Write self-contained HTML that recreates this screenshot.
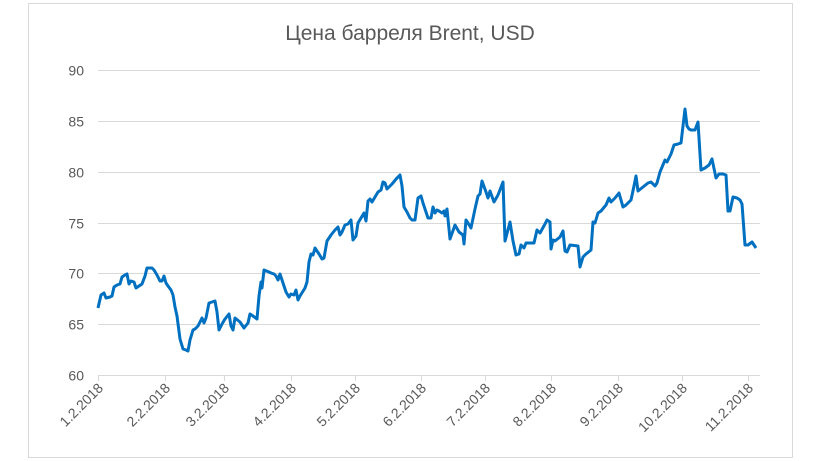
<!DOCTYPE html>
<html><head><meta charset="utf-8"><style>
html,body{margin:0;padding:0;background:#fff;}
svg{display:block;font-family:"Liberation Sans","DejaVu Sans",sans-serif;}
</style></head><body>
<svg width="820" height="461" viewBox="0 0 820 461" xmlns="http://www.w3.org/2000/svg">
<rect x="28.5" y="3.5" width="764" height="454" fill="#fff" stroke="#d9d9d9"/>
<text x="410" y="40" text-anchor="middle" font-size="21" fill="#595959">Цена барреля Brent, USD</text>
<g stroke="#d9d9d9" stroke-width="1">
<line x1="98" y1="70.5" x2="760" y2="70.5"/>
<line x1="98" y1="121.5" x2="760" y2="121.5"/>
<line x1="98" y1="172.5" x2="760" y2="172.5"/>
<line x1="98" y1="223.5" x2="760" y2="223.5"/>
<line x1="98" y1="273.5" x2="760" y2="273.5"/>
<line x1="98" y1="324.5" x2="760" y2="324.5"/>
<line x1="98" y1="375.5" x2="760" y2="375.5"/>
<line x1="98.5" y1="375" x2="98.5" y2="381"/>
<line x1="165.5" y1="375" x2="165.5" y2="381"/>
<line x1="224.5" y1="375" x2="224.5" y2="381"/>
<line x1="291.5" y1="375" x2="291.5" y2="381"/>
<line x1="355.5" y1="375" x2="355.5" y2="381"/>
<line x1="421.5" y1="375" x2="421.5" y2="381"/>
<line x1="485.5" y1="375" x2="485.5" y2="381"/>
<line x1="551.5" y1="375" x2="551.5" y2="381"/>
<line x1="618.5" y1="375" x2="618.5" y2="381"/>
<line x1="682.5" y1="375" x2="682.5" y2="381"/>
<line x1="748.5" y1="375" x2="748.5" y2="381"/>
</g>
<g font-size="14" fill="#595959" text-anchor="end">
<text x="84" y="75.5">90</text><text x="84" y="126.5">85</text><text x="84" y="177.5">80</text>
<text x="84" y="228.5">75</text><text x="84" y="278.5">70</text><text x="84" y="329.5">65</text><text x="84" y="380.5">60</text>
</g>
<g font-size="14" fill="#595959" text-anchor="end">
<text transform="translate(104,389) rotate(-45)">1.2.2018</text>
<text transform="translate(171,389) rotate(-45)">2.2.2018</text>
<text transform="translate(230,389) rotate(-45)">3.2.2018</text>
<text transform="translate(297,389) rotate(-45)">4.2.2018</text>
<text transform="translate(361,389) rotate(-45)">5.2.2018</text>
<text transform="translate(427,389) rotate(-45)">6.2.2018</text>
<text transform="translate(491,389) rotate(-45)">7.2.2018</text>
<text transform="translate(557,389) rotate(-45)">8.2.2018</text>
<text transform="translate(624,389) rotate(-45)">9.2.2018</text>
<text transform="translate(688,389) rotate(-45)">10.2.2018</text>
<text transform="translate(754,389) rotate(-45)">11.2.2018</text>
</g>
<polyline fill="none" stroke="#0070c0" stroke-width="3" stroke-linejoin="round" points="98,308 101,295 104,293 106,298 110,297 112,296 114,287 117,285 120,284 122,277 125,275 127,274 129,284 131,281 134,282 136,288 139,286 142,284 145,276 147,268 150,268 152,268 154,270 157,275 160,281 162,281 164,276 166,283 168,286 171,290 173,295 175,307 177,316 180,339 183,349 186,350 188,351 190,340 193,330 195,329 198,326 200,322 202,318 204,323 206,318 209,303 212,302 215,301 217,312 219,330 222,324 225,319 229,314 231,326 233,330 235,318 240,322 244,328 248,323 250,314 253,316 257,319 259,296 261,282 262,288 264,270 269,272 271,273 274,274 276,276 278,280 280,274 283,283 286,292 289,297 291,294 294,295 296,290 298,300 300,296 305,288 307,282 309,262 311,254 313,255 315,248 319,254 322,259 324,258 327,241 331,235 335,230 338,227 340,235 342,232 345,225 348,224 351,220 353,240 356,236 358,223 361,218 364,213 366,221 368,201 370,199 372,202 375,197 378,192 381,190 383,182 385,183 387,189 392,184 397,178 400,175 402,186 404,207 407,212 410,218 412,220 415,220 418,198 421,196 423,203 426,212 428,218 431,218 433,207 435,213 437,210 439,211 442,213 444,211 445,216 447,209 450,239 455,225 459,232 463,235 464,244 466,220 468,223 471,228 475,209 478,196 480,194 482,181 486,192 488,198 490,191 494,202 498,195 503,182 505,241 510,222 513,241 516,255 519,254 521,245 524,248 526,243 534,243 537,230 540,233 545,224 547,220 550,222 551,249 553,240 555,241 560,237 563,231 565,251 567,252 570,245 578,246 580,267 583,257 586,254 591,250 593,222 595,223 598,213 601,211 606,205 609,198 611,202 615,198 619,193 623,207 626,205 631,200 634,186 636,176 638,191 643,187 648,183 651,182 655,186 657,183 660,172 665,160 667,162 671,154 674,145 678,144 681,143 685,109 687,126 689,129 691,130 695,130 698,122 701,170 705,168 709,165 712,159 716,178 719,174 723,174 726,175 728,211 730,211 733,197 737,198 740,200 742,204 745,245 748,245 752,242 756,248"/>
</svg>
</body></html>
